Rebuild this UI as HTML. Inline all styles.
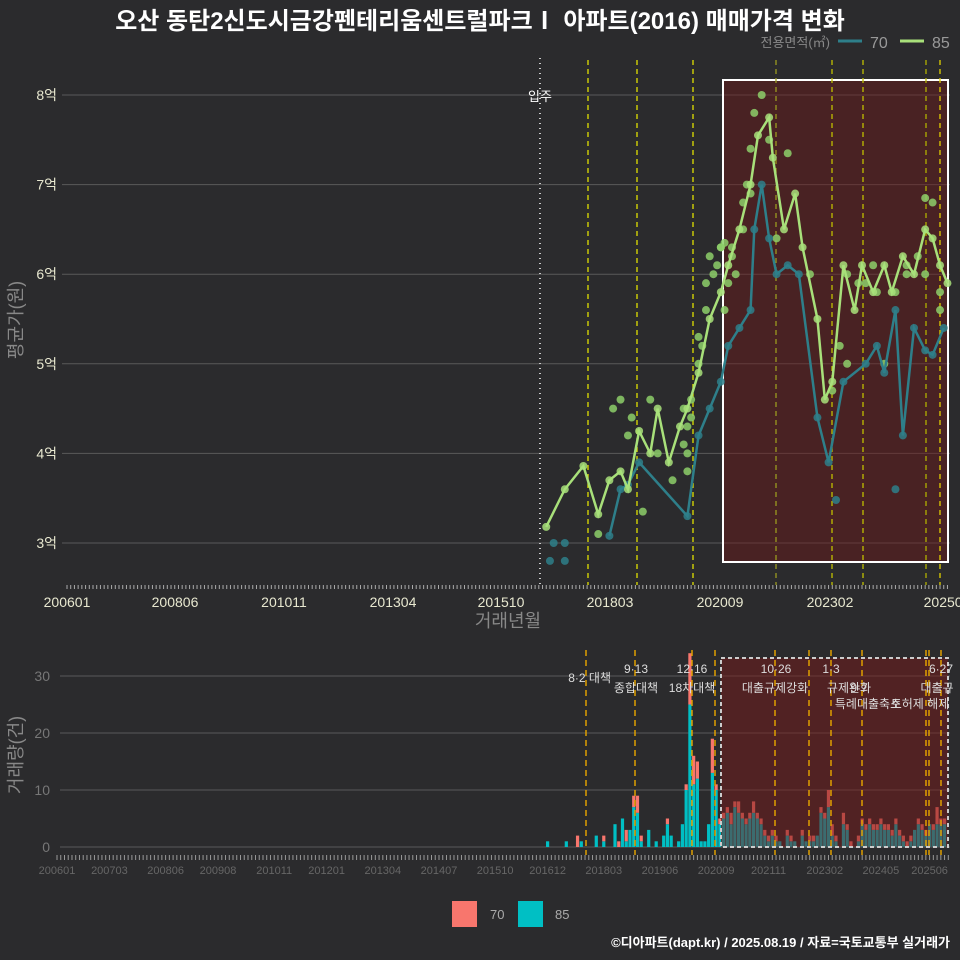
<!DOCTYPE html>
<html><head><meta charset="utf-8"><style>
body{margin:0;background:#2b2b2d;}
svg{display:block;font-family:"Liberation Sans","Noto Sans CJK KR",sans-serif;}
</style></head><body>
<svg id="c" width="960" height="960" xmlns="http://www.w3.org/2000/svg">
<rect width="960" height="960" fill="#2b2b2d"/>
<text x="480" y="29" text-anchor="middle" font-size="24" font-weight="bold" fill="#ffffff">오산 동탄2신도시금강펜테리움센트럴파크Ⅰ 아파트(2016) 매매가격 변화</text>
<g id="topPanel"></g><g id="botPanel"></g>
<g>
<text x="830" y="47" text-anchor="end" font-size="13" fill="#888">전용면적(㎡)</text>
<line x1="838" y1="41" x2="862" y2="41" stroke="#2e7f8a" stroke-width="3"/>
<text x="870" y="48" font-size="16" fill="#999">70</text>
<line x1="900" y1="41" x2="924" y2="41" stroke="#a8e07a" stroke-width="3"/>
<text x="932" y="48" font-size="16" fill="#999">85</text>
</g>
<g>
<rect x="452" y="901" width="25" height="26" fill="#f8766d"/>
<text x="490" y="919" font-size="13" fill="#aaa">70</text>
<rect x="518" y="901" width="25" height="26" fill="#00bfc4"/>
<text x="555" y="919" font-size="13" fill="#aaa">85</text>
</g>
<text x="950" y="947" text-anchor="end" font-size="13" font-weight="bold" fill="#fff">©디아파트(dapt.kr) / 2025.08.19 / 자료=국토교통부 실거래가</text>
</svg>
<script>
// ---- data ----
const line85Months=["201610","201703","201708","201712","201803","201806","201808","201811","201902","201904","201907","201910","201912","202003","202006","202009","202011","202102","202105","202107","202110","202111","202202","202205","202207","202211","202301","202303","202306","202309","202311","202402","202405","202407","202410","202501","202504","202506","202508","202510"];
const line85Values=[3.18,3.6,3.86,3.32,3.7,3.8,3.6,4.25,4.0,4.5,3.9,4.3,4.5,4.9,5.5,5.8,6.1,6.5,7.0,7.55,7.75,7.3,6.5,6.9,6.3,5.5,4.6,4.8,6.1,5.6,6.1,5.8,6.1,5.8,6.2,6.0,6.5,6.4,6.1,5.9];
const line70Months=["201803","201806","201808","201811","201912","202003","202006","202009","202011","202102","202105","202106","202108","202110","202112","202203","202206","202211","202302","202306","202312","202403","202405","202408","202410","202501","202504","202506","202509"];
const line70Values=[3.08,3.6,3.65,3.9,3.3,4.2,4.5,4.8,5.2,5.4,5.6,6.5,7.0,6.4,6.0,6.1,6.0,4.4,3.9,4.8,5.0,5.2,4.9,5.6,4.2,5.4,5.15,5.1,5.4];
const dotMonths=["201703","201703","201712","201804","201806","201808","201809","201812","201902","201904","201908","201911","201911","201912","202001","202003","202005","202007","202009","202010","202012","202101","202103","202105","202106","202108","202110","202112","202203","202209","202303","202304","202307","202310","202402","202405","202408","202411","202502","202504","202506","202508","201611","201612","201912","201912","202001","202003","202004","202005","202006","202008","202009","202010","202011","202012","202103","202104","202105","202305","202307","202312","202403","202408","202411","202504","202508"];
const dotValues=[2.8,3.0,3.1,4.5,4.6,4.2,4.4,3.35,4.6,4.0,3.7,4.5,4.1,4.3,4.4,5.3,5.6,6.0,6.3,6.35,6.2,6.0,6.5,7.4,7.8,8.0,7.5,6.4,7.35,6.0,4.7,3.48,5.0,5.9,6.1,5.0,3.6,6.0,6.2,6.85,6.8,5.6,2.8,3.0,3.8,4.0,4.6,5.0,5.2,5.9,6.2,6.1,6.3,5.6,5.9,6.3,6.8,7.0,6.9,5.2,6.0,5.9,5.8,5.8,6.1,6.0,5.8];
const xTickLabels=["200601","200806","201011","201304","201510","201803","202009","202302","202507"];
const yTickLabels=["3억","4억","5억","6억","7억","8억"];
const yTickValues=[3,4,5,6,7,8];
const barEarlyMonths=["201612","201705","201708","201709","201801","201803","201806","201807","201808","201809","201810","201811","201812","201901","201903","201905","201907","201908","201909","201911","201912","202001","202002","202003","202004","202005","202006","202007","202008","202009"];
const barEarly85=[1,1,0,1,2,1,4,0,5,1,3,7,6,1,3,1,2,4,2,1,4,10,25,11,12,1,1,4,13,10];
const barEarly70=[0,0,2,0,0,1,0,1,0,2,0,2,3,1,0,0,0,1,0,0,0,1,9,5,3,0,0,0,6,1];
const barLate85=[4,5,6,4,7,6,5,4,5,6,5,4,2,1,2,1,1,0,2,1,1,0,2,1,1,1,2,6,5,7,2,1,0,4,3,0,0,1,4,3,4,3,3,4,3,3,2,4,2,1,0,1,3,4,3,2,4,3,4,4,4];
const barLate70=[1,1,1,2,1,2,1,1,1,2,1,1,1,1,1,1,0,0,1,1,0,0,1,0,1,1,0,1,1,3,2,1,0,2,1,1,0,1,1,1,1,1,1,1,1,1,1,1,1,1,1,1,0,1,1,1,0,1,3,1,1];
const botTickLabels=["200601","200703","200806","200908","201011","201201","201304","201407","201510","201612","201803","201906","202009","202111","202302","202405","202506"];
// ---- helpers ----
const NS="http://www.w3.org/2000/svg";
function mk(tag,attrs,parent,txt){const e=document.createElementNS(NS,tag);for(const k in attrs)e.setAttribute(k,attrs[k]);if(txt!=null)e.textContent=txt;parent.appendChild(e);return e;}
function mi(s){return (parseInt(s.slice(0,4))-2006)*12+parseInt(s.slice(4))-1;}
const TPX=3.715, BPX=3.745;
const xT=m=>67+mi(m)*TPX, yT=v=>543-(v-3)*89.6;
const xB=m=>57+mi(m)*BPX, yB=v=>847-v*5.7;
const topG=document.getElementById('topPanel'), botG=document.getElementById('botPanel');
// ---- top panel ----
yTickValues.forEach((v,i)=>{
 const g=mk('line',{x1:62,x2:950,y1:yT(v),y2:yT(v),stroke:'#5a5a5a','stroke-width':1},topG);
 
 
 const t=mk('text',{x:57,y:yT(v)+5,'text-anchor':'end','font-size':14,fill:'#e8e8d0'},topG,yTickLabels[i]);
 
 
});
const shade=mk('rect',{x:723,y:80,width:225,height:482,fill:'rgba(110,25,25,0.45)',stroke:'#fff','stroke-width':2},topG);


mk('line',{x1:540,x2:540,y1:58,y2:585,stroke:'#ccc','stroke-width':2,'stroke-dasharray':'1,4'},topG);
const ip=mk('text',{x:540,y:101,'text-anchor':'middle','font-size':13,fill:'#fff'},topG,'입주');


[[588,'#e0e000'],[637,'#e0e000'],[693,'#e0e000'],[776,'#9a9a20'],[832,'#c0c000'],[863,'#c0c000'],[926,'#b0b000'],[940,'#e0d000']].forEach(([x,c])=>mk('line',{x1:x,x2:x,y1:60,y2:585,stroke:c,'stroke-width':1.3,'stroke-dasharray':'5,4'},topG));
for(let m=0;m<238;m++){mk('line',{x1:67+m*TPX,x2:67+m*TPX,y1:585,y2:589,stroke:'#aaa','stroke-width':1},topG);}
const xPos=[67,175,284,393,501,610,720,830,947];
xTickLabels.forEach((l,i)=>{const t=mk('text',{x:xPos[i],y:607,'text-anchor':'middle','font-size':14,fill:'#e8e8d0'},topG,l);
 
 });
const xt=mk('text',{x:508,y:627,'text-anchor':'middle','font-size':18,fill:'#888'},topG,'거래년월');


const yt=mk('text',{x:22,y:320,'text-anchor':'middle','font-size':18,fill:'#888',transform:'rotate(-90 22 320)'},topG,'평균가(원)');


dotMonths.forEach((m,i)=>{const c=mk('circle',{cx:xT(m),cy:yT(dotValues[i]),r:4,fill:dotValues[i]<3.05||dotValues[i]===3.48||dotValues[i]===3.6?'#2e7f8a':'#8dcf6a','fill-opacity':0.85},topG);
 
 });
function series(ms,vs,col,name){
 const p=mk('polyline',{points:ms.map((m,i)=>xT(m)+','+yT(vs[i])).join(' '),fill:'none',stroke:col,'stroke-width':2.5},topG);
 
 
 ms.forEach((m,i)=>{const c=mk('circle',{cx:xT(m),cy:yT(vs[i]),r:4,fill:col,'fill-opacity':0.85},topG);
  
  });
}
series(line70Months,line70Values,'#2e7f8a','series-70');
series(line85Months,line85Values,'#a8e07a','series-85');
// ---- bottom panel ----
[0,10,20,30].forEach(v=>{
 const g=mk('line',{x1:60,x2:950,y1:yB(v),y2:yB(v),stroke:'#5a5a5a','stroke-width':1},botG);
 
 
 const t=mk('text',{x:50,y:yB(v)+5,'text-anchor':'end','font-size':14,fill:'#777'},botG,String(v));
 
 
});
const bm=barEarlyMonths.slice(), b85=barEarly85.slice(), b70=barEarly70.slice();
for(let i=0;i<barLate85.length;i++){const t=mi("202010")+i;bm.push(String(2006+Math.floor(t/12))+String(t%12+1).padStart(2,'0'));b85.push(barLate85[i]);b70.push(barLate70[i]);}
bm.forEach((m,i)=>{
 const x=xB(m)-1.6;
 const a=mk('rect',{x:x,y:yB(b85[i]),width:3.2,height:b85[i]*5.7,fill:'#00bfc4'},botG);
 
 
 const b=mk('rect',{x:x,y:yB(b85[i]+b70[i]),width:3.2,height:b70[i]*5.7,fill:'#f8766d'},botG);
 
 
});
const sh2=mk('rect',{x:721,y:658,width:227,height:189,fill:'rgba(120,25,25,0.5)',stroke:'#ccc','stroke-width':2,'stroke-dasharray':'4,3'},botG);


[586,635,692,715,775,809,831,862,926,929,941].forEach(x=>mk('line',{x1:x,x2:x,y1:650,y2:855,stroke:'#e0a000','stroke-width':1.5,'stroke-dasharray':'6,4'},botG));
[["8·2 대책",611,682,'end'],["9·13",636,673,'middle'],["종합대책",636,692,'middle'],["12·16",692,673,'middle'],["18차대책",692,692,'middle'],["10·26",776,673,'middle'],["대출규제강화",775,692,'middle'],["1·3",831,673,'middle'],["규제완화",849,692,'middle'],["9·7",859,692,'middle'],["특례대출축소",868,708,'middle'],["토허제 해제",920,708,'middle'],["6·27",941,673,'middle'],["대출규",937,692,'middle']].forEach(a=>{
 const t=mk('text',{x:a[1],y:a[2],'text-anchor':a[3],'font-size':12,fill:'#ddd'},botG,a[0]);
 
 
});
for(let m=0;m<239;m++){mk('line',{x1:57+m*BPX,x2:57+m*BPX,y1:855,y2:860,stroke:'#999','stroke-width':1},botG);}
botTickLabels.forEach(l=>{const t=mk('text',{x:xB(l),y:874,'text-anchor':'middle','font-size':11,fill:'#666'},botG,l);
 
 });
const yt2=mk('text',{x:22,y:755,'text-anchor':'middle','font-size':18,fill:'#888',transform:'rotate(-90 22 755)'},botG,'거래량(건)');


</script>
</body></html>
